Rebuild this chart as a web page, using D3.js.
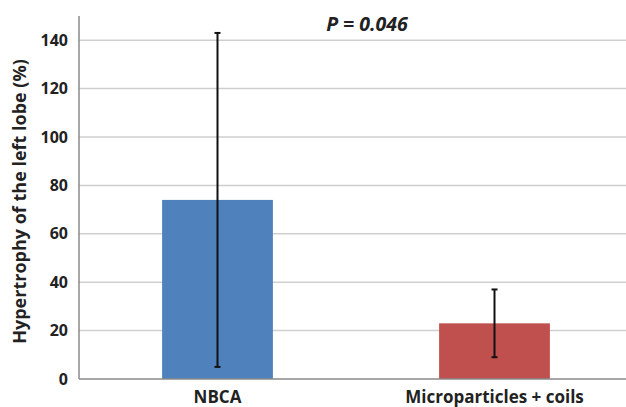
<!DOCTYPE html>
<html><head><meta charset="utf-8">
<script src="https://cdn.jsdelivr.net/npm/d3@7"></script>
<style>body{margin:0;background:#fff;}svg{display:block;}text{font-family:"Open Sans","Liberation Sans",sans-serif;}</style>
</head><body><svg id="c" width="626" height="407"></svg>
<script>
const categories = ["NBCA", "Microparticles + coils"];
const means = [74, 23];
const errLow = [5, 9];
const errHigh = [143, 37];
const colors = ["#4f81bd", "#c0504d"];
const yTicks = [0, 20, 40, 60, 80, 100, 120, 140];
const yLabel = "Hypertrophy of the left lobe (%)";
const pText = "P = 0.046";

const svg = d3.select("#c");
const x0 = 79, x1 = 633, yTop = 16, yBot = 379;
const x = d3.scaleBand().domain(categories).range([x0, x1]).paddingInner(0.6).paddingOuter(0.3);
const y = d3.scaleLinear().domain([0, 150]).range([yBot, yTop]);

// gridlines
svg.append("g").selectAll("line").data(yTicks.filter(d => d > 0)).join("line")
  .attr("x1", x0).attr("x2", 626).attr("y1", d => y(d)).attr("y2", d => y(d))
  .attr("stroke", "#cfcfcf").attr("stroke-width", 1.5);

// bars
svg.append("g").selectAll("rect").data(categories).join("rect")
  .attr("x", d => x(d)).attr("width", x.bandwidth())
  .attr("y", (d, i) => y(means[i])).attr("height", (d, i) => y(0) - y(means[i]))
  .attr("fill", (d, i) => colors[i]);

// error bars
const eg = svg.append("g").attr("stroke", "#111").attr("stroke-width", 2);
categories.forEach((c, i) => {
  const cx = x(c) + x.bandwidth() / 2;
  eg.append("line").attr("x1", cx).attr("x2", cx).attr("y1", y(errLow[i])).attr("y2", y(errHigh[i]));
  eg.append("line").attr("x1", cx - 3).attr("x2", cx + 3).attr("y1", y(errLow[i])).attr("y2", y(errLow[i]));
  eg.append("line").attr("x1", cx - 3).attr("x2", cx + 3).attr("y1", y(errHigh[i])).attr("y2", y(errHigh[i]));
});

// axes
const ya = svg.append("g").attr("transform", `translate(${x0},0)`)
  .call(d3.axisLeft(y).tickValues(yTicks).tickSize(0).tickPadding(11));
ya.select(".domain").attr("stroke", "#8a8a8a").attr("stroke-width", 1.5).attr("d", `M0,${yTop}V${yBot}`);
ya.selectAll("text").attr("font-size", 16).attr("font-weight", "bold").attr("fill", "#222")
  .attr("font-family", "'Open Sans','Liberation Sans',sans-serif");

const xa = svg.append("g").attr("transform", `translate(0,${yBot})`)
  .call(d3.axisBottom(x).tickSize(0).tickPadding(12));
xa.select(".domain").attr("stroke", "#8a8a8a").attr("stroke-width", 1.5).attr("d", `M${x0},0H626`);
xa.selectAll("text").attr("font-size", 17).attr("font-weight", "bold").attr("fill", "#222")
  .attr("font-family", "'Open Sans','Liberation Sans',sans-serif");

// y label
svg.append("text").attr("transform", `translate(26,${(yTop + yBot) / 2 + 4}) rotate(-90)`)
  .attr("text-anchor", "middle").attr("font-size", 18).attr("font-weight", "bold").attr("fill", "#222")
  .text(yLabel);

// P value
svg.append("text").attr("x", 367).attr("y", 31).attr("text-anchor", "middle")
  .attr("font-size", 19.5).attr("font-weight", "bold").attr("font-style", "italic").attr("fill", "#222")
  .text(pText);
</script></body></html>
